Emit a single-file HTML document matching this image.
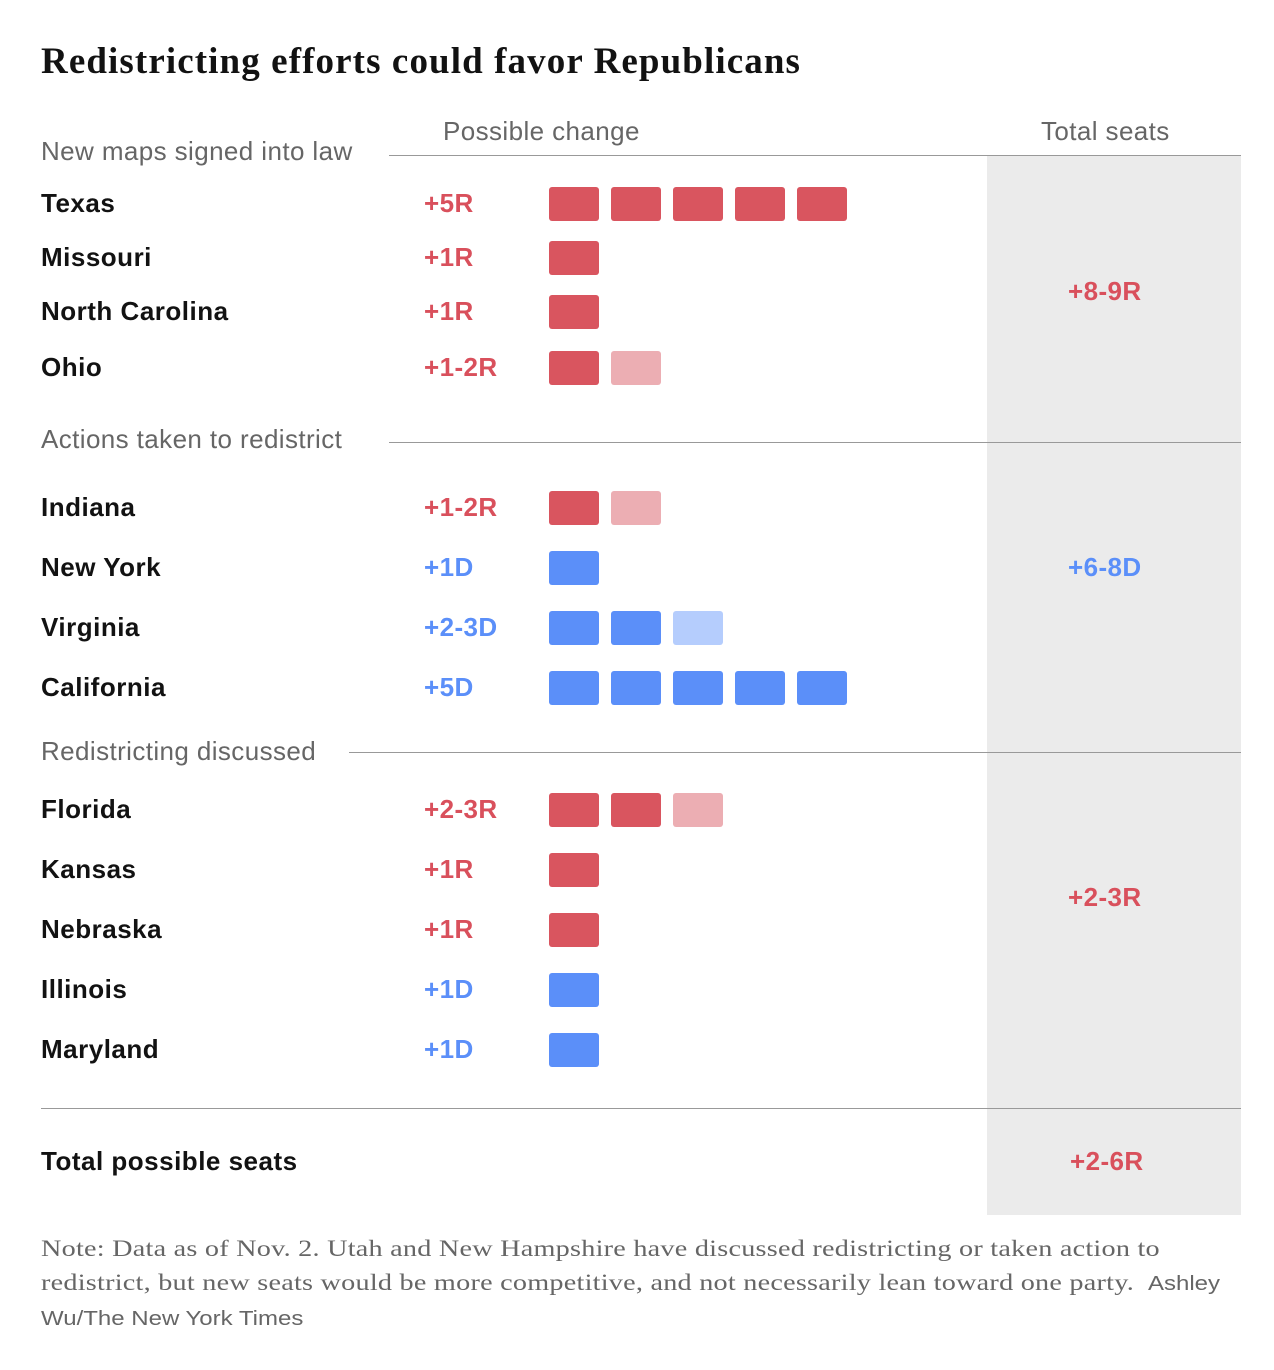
<!DOCTYPE html>
<html><head><meta charset="utf-8"><style>
body{margin:0;width:1274px;height:1370px;background:#fff;position:relative;overflow:hidden;font-family:"Liberation Sans",sans-serif}
.a{position:absolute;white-space:nowrap}
.t{font-family:"Liberation Serif",serif;font-weight:bold;font-size:37px;color:#121212;left:41px;top:40px;letter-spacing:1.1px}
.h{font-size:26px;color:#666;letter-spacing:0.4px}
.s{font-size:26px;font-weight:bold;color:#121212;letter-spacing:0.5px}
.v{font-size:26px;font-weight:bold;letter-spacing:0.4px}
.ln{position:absolute;height:1px;background:#999}
.note{font-family:"Liberation Serif",serif;font-size:23.5px;color:#666;line-height:34px;left:41px;top:1232px;letter-spacing:0.2px;transform:scaleX(1.2);transform-origin:0 0}
.src{font-family:'Liberation Sans',sans-serif;font-size:20px;letter-spacing:0}
</style></head><body>
<div class="a" style="left:987px;top:155px;width:254px;height:1060px;background:#ebebeb"></div>
<div class="a t">Redistricting efforts could favor Republicans</div>
<div class="a h" style="left:443px;top:116px">Possible change</div>
<div class="a h" style="left:1041px;top:116px">Total seats</div>
<div class="a h" style="left:41px;top:136px">New maps signed into law</div>
<div class="ln" style="left:389px;top:155px;width:852px"></div>
<div class="a h" style="left:41px;top:424px">Actions taken to redistrict</div>
<div class="ln" style="left:389px;top:442px;width:852px"></div>
<div class="a h" style="left:41px;top:736px">Redistricting discussed</div>
<div class="ln" style="left:349px;top:752px;width:892px"></div>
<div class="ln" style="left:41px;top:1108px;width:1200px"></div>
<div class="a s" style="left:41px;top:1146px">Total possible seats</div>
<div class="a v" style="left:1070px;top:1146px;color:#d9505c">+2-6R</div>
<div class="a v" style="left:1068px;top:276px;color:#d9505c">+8-9R</div>
<div class="a v" style="left:1068px;top:552px;color:#5b8ff9">+6-8D</div>
<div class="a v" style="left:1068px;top:882px;color:#d9505c">+2-3R</div>
<div class="a note">Note: Data as of Nov. 2. Utah and New Hampshire have discussed redistricting or taken action to<br>redistrict, but new seats would be more competitive, and not necessarily lean toward one party. <span class="src">&nbsp;Ashley</span><br><span class="src">Wu/The New York Times</span></div>
<div id="rows"></div>
<script>
const states=["Texas","Missouri","North Carolina","Ohio","Indiana","New York","Virginia","California","Florida","Kansas","Nebraska","Illinois","Maryland"];
const party=["R","R","R","R","R","D","D","D","R","R","R","D","D"];
const minSeats=[5,1,1,1,1,1,2,5,2,1,1,1,1];
const maxSeats=[5,1,1,2,2,1,3,5,3,1,1,1,1];
const rowY=[204,258,312,368,508,568,628,688,810,870,930,990,1050];
const C={R:["#d9555f","#ecaeb3"],D:["#5b8ff9","#b5cdfd"]};
const T={R:"#d9505c",D:"#5b8ff9"};
const root=document.getElementById('rows');
const x=i=>549+i*62;
states.forEach((s,r)=>{
  const y=rowY[r];
  const l=document.createElement('div');l.className='a s';l.style.left='41px';l.style.top=(y-16)+'px';l.textContent=s;
  
  
  root.appendChild(l);
  const v=document.createElement('div');v.className='a v';v.style.left='424px';v.style.top=(y-16)+'px';v.style.color=T[party[r]];
  v.textContent='+'+(minSeats[r]===maxSeats[r]?minSeats[r]:minSeats[r]+'-'+maxSeats[r])+party[r];
  
  
  root.appendChild(v);
  for(let i=0;i<maxSeats[r];i++){
    const b=document.createElement('div');b.className='a';
    b.style.cssText=`left:${x(i)}px;top:${y-17}px;width:50px;height:34px;border-radius:3px;background:${C[party[r]][i<minSeats[r]?0:1]}`;
    
    
    root.appendChild(b);
  }
});
</script>
</body></html>
